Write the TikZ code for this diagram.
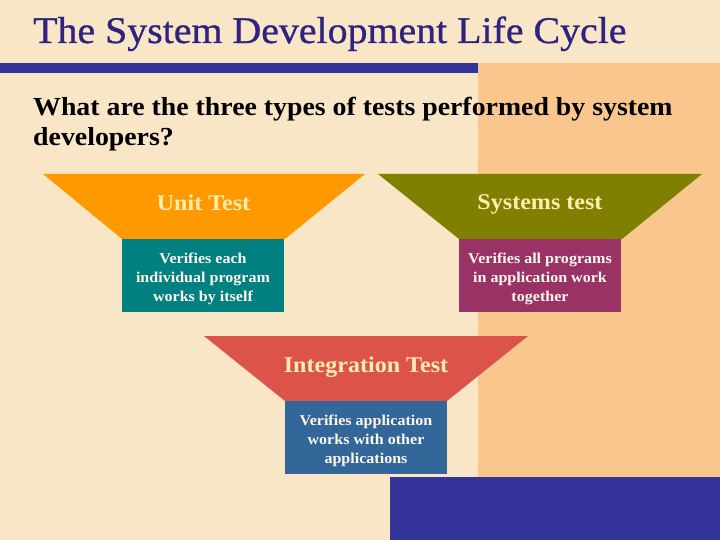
\documentclass[tikz,border=0pt]{standalone}
\usepackage{fontspec}
\setmainfont[FakeStretch=1.07]{Liberation Serif}
\newfontfamily\titlefont[FakeStretch=1.06,FakeBold=0.8]{Liberation Serif}
\definecolor{bgcream}{HTML}{F9E6C6}
\definecolor{panelorange}{HTML}{F9C68D}
\definecolor{barblue}{HTML}{333399}
\definecolor{titleblue}{HTML}{2E2480}
\definecolor{unitorange}{HTML}{FF9900}
\definecolor{tealbox}{HTML}{008080}
\definecolor{olivetrap}{HTML}{808000}
\definecolor{maroonbox}{HTML}{993366}
\definecolor{redtrap}{HTML}{DC5449}
\definecolor{steelbox}{HTML}{336699}
\definecolor{traptext}{HTML}{FFEDB0}
\definecolor{boxtext}{HTML}{FFF8EC}
\tikzset{
  traplabel/.style={anchor=base, text=traptext, font=\fontsize{22.5}{26}\selectfont\bfseries, inner sep=0pt},
  boxlabel/.style={anchor=base, text=boxtext, font=\fontsize{15}{19}\selectfont\bfseries, align=center, inner sep=0pt},
}
\begin{document}
\begin{tikzpicture}[x=1pt,y=-1pt]
\useasboundingbox (0,0) rectangle (720,540);
% background
\fill[bgcream] (0,0) rectangle (720,540);
\fill[panelorange] (478,63) rectangle (720,477);
\fill[barblue] (0,63) rectangle (478,73);
\fill[barblue] (390,477) rectangle (720,540);
% title
\node[anchor=base west, text=titleblue, font=\titlefont\fontsize{37.6}{44}\selectfont, inner sep=0pt] (title) at (33,43) {The System Development Life Cycle};
% question (anchor base = last line)
\node[anchor=base west, align=left, font=\fontsize{26}{30}\selectfont\bfseries, inner sep=0pt] (question) at (33,146) {What are the three types of tests performed by system\\developers?};
% Unit test
\fill[unitorange] (43,174) -- (365,174) -- (285,239) -- (122,239) -- cycle;
\fill[tealbox] (122,239) rectangle (284,312);
\node[traplabel] (unit) at (203.5,211) {Unit Test};
\node[boxlabel] (unitdesc) at (203,301) {Verifies each\\individual program\\works by itself};
% Systems test
\fill[olivetrap] (378,174) -- (702,174) -- (622,239) -- (459,239) -- cycle;
\fill[maroonbox] (459,239) rectangle (621,312);
\node[traplabel] (sys) at (540,210) {Systems test};
\node[boxlabel] (sysdesc) at (540,301) {Verifies all programs\\in application work\\together};
% Integration test
\fill[redtrap] (204,336) -- (528,336) -- (447,401) -- (285,401) -- cycle;
\fill[steelbox] (285,401) rectangle (447,474);
\node[traplabel] (integ) at (366,372) {Integration Test};
\node[boxlabel] (integdesc) at (366,463) {Verifies application\\works with other\\applications};
\end{tikzpicture}
\end{document}
